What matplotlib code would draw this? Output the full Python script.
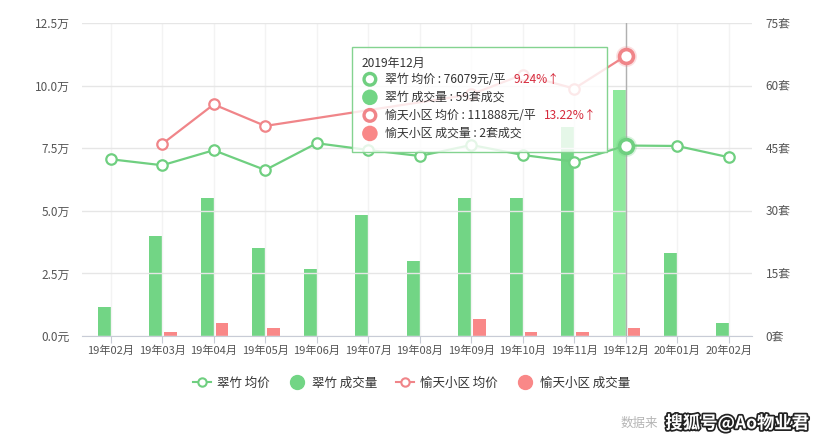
import numpy as np
import matplotlib
matplotlib.use('Agg')
import matplotlib.pyplot as plt
import matplotlib.patheffects as pe
from matplotlib.lines import Line2D
from matplotlib.patches import Circle
from matplotlib.offsetbox import TextArea, HPacker, VPacker, DrawingArea, AnnotationBbox

plt.rcParams['font.family'] = ['Noto Sans CJK SC', 'DejaVu Sans']

months = ['19年02月', '19年03月', '19年04月', '19年05月', '19年06月', '19年07月', '19年08月',
          '19年09月', '19年10月', '19年11月', '19年12月', '20年01月', '20年02月']
cuizhu_price = [70600, 68200, 74200, 66300, 77000, 74300, 71900, 76300, 72300, 69645, 76079, 75900, 71400]
cuizhu_volume = [7, 24, 33, 21, 16, 29, 18, 33, 33, 50, 59, 20, 3]
yutian_price = [np.nan, 76700, 92500, 83900, np.nan, np.nan, np.nan, 96500, 104400, 98823, 111888, np.nan, np.nan]
yutian_volume = [0, 1, 3, 2, 0, 0, 0, 4, 1, 1, 2, 0, 0]
hover = 10  # 19年12月

green = '#72d585'
green_hi = '#8fe99d'
green_line = '#6fcf80'
red = '#f98888'
red_line = '#f08589'
up_red = '#d62a3c'

x = np.arange(len(months))
fig = plt.figure(figsize=(8.24, 4.43), dpi=100)
ax = fig.add_axes([0.100, 0.2415, 0.8126, 0.7065])
ax2 = ax.twinx()

# bars (right axis)
bar_colors = [green_hi if i == hover else green for i in x]
ax2.bar(x - 0.125, cuizhu_volume, width=0.25, color=bar_colors, zorder=2)
ax2.bar(x + 0.16, yutian_volume, width=0.25, color=red, zorder=2)
ax2.set_ylim(0, 75)
ax2.set_yticks(range(0, 76, 15))
ax2.set_yticklabels(['%d套' % v for v in range(0, 76, 15)])

# lines (left axis) drawn on top
ax.set_zorder(ax2.get_zorder() + 1)
ax.patch.set_visible(False)
ax2.patch.set_visible(True)
ax2.patch.set_facecolor('white')

cp = np.array(cuizhu_price, dtype=float)
yp = np.array(yutian_price, dtype=float)
ok = ~np.isnan(yp)
ax.plot(x, cp, color=green_line, lw=1.6, marker='o', ms=7.5, mfc='white', mec=green_line, mew=1.6, zorder=4)
ax.plot(x[ok], yp[ok], color=red_line, lw=1.6, marker='o', ms=7.5, mfc='white', mec=red_line, mew=1.6, zorder=5)

# hovered points
for vals, col in [(cp, green_line), (yp, red_line)]:
    ax.plot([hover], [vals[hover]], 'o', ms=15, color=col, alpha=0.25, mew=0, zorder=6)
    ax.plot([hover], [vals[hover]], 'o', ms=10, mfc='white', mec=col, mew=2.6, zorder=7)

ax.axvline(hover, color='#b0b0b0', lw=1, zorder=3)

ax.set_ylim(0, 125000)
ax.set_yticks(range(0, 125001, 25000))
ax.set_yticklabels(['0.0元'] + ['%.1f万' % (v / 10000) for v in range(25000, 125001, 25000)])
ax.set_xlim(-0.55, 12.45)
ax.set_xticks(x)
ax.set_xticklabels(months)

ax2.grid(False)
ax.grid(axis='y', color='#e6e6e6', lw=1, zorder=0)
ax.grid(axis='x', color='#f3f3f3', lw=1, zorder=0)

for a in (ax, ax2):
    for s in a.spines.values():
        s.set_visible(False)
    a.tick_params(axis='y', length=0, labelsize=8.5, labelcolor='#555555')
ax.spines['bottom'].set_visible(True)
ax.spines['bottom'].set_color('#c8ccd6')
ax.tick_params(axis='x', length=5, color='#c8ccd6', labelsize=8, labelcolor='#555555', pad=2)
ax2.tick_params(axis='x', length=0)
ax.tick_params(axis='y', pad=9)
ax2.tick_params(axis='y', pad=10)

# legend
handles = [
    Line2D([], [], color=green_line, lw=1.5, marker='o', ms=6, mfc='white', mec=green_line, mew=1.5),
    Line2D([], [], color=green, lw=0, marker='o', ms=10),
    Line2D([], [], color=red_line, lw=1.5, marker='o', ms=6, mfc='white', mec=red_line, mew=1.5),
    Line2D([], [], color=red, lw=0, marker='o', ms=10),
]
labels = ['翠竹 均价', '翠竹 成交量', '愉天小区 均价', '愉天小区 成交量']
fig.legend(handles, labels, loc='center', bbox_to_anchor=(0.5, 0.135), ncol=4, frameon=False,
           fontsize=9, handlelength=1.4, handletextpad=0.5, columnspacing=1.5, labelcolor='#333333')

# tooltip
def icon(col, hollow):
    d = DrawingArea(12, 12, 0, 0)
    if hollow:
        d.add_artist(Circle((6, 6), 4.2, fc='white', ec=col, lw=2.4))
    else:
        d.add_artist(Circle((6, 6), 5.6, fc=col, ec='none'))
    return d

def row(col, hollow, text, extra=None):
    left = HPacker(children=[icon(col, hollow), TextArea(text, textprops=tp)], sep=5, align='center')
    if extra is None:
        return left
    return HPacker(children=[left, TextArea(extra, textprops=pp)], sep=6, align='center')

tp = dict(color='#333333', size=8.6)
pp = dict(color=up_red, size=8.6)
g_pct = (cuizhu_price[hover] / cuizhu_price[hover - 1] - 1) * 100
r_pct = (yutian_price[hover] / yutian_price[hover - 1] - 1) * 100
rows = [
    TextArea('2019年12月', textprops=tp),
    row(green_line, True, '翠竹 均价 : %d元/平' % cuizhu_price[hover], '%.2f%%↑' % g_pct),
    row(green, False, '翠竹 成交量 : %d套成交' % cuizhu_volume[hover]),
    row(red_line, True, '愉天小区 均价 : %d元/平' % yutian_price[hover], '%.2f%%↑' % r_pct),
    row(red, False, '愉天小区 成交量 : %d套成交' % yutian_volume[hover]),
]
box = VPacker(children=rows, sep=1.0, align='left', pad=4.0)
ab = AnnotationBbox(box, (356, 443 - 51), xycoords='figure pixels', box_alignment=(0, 1), pad=0.7,
                    bboxprops=dict(boxstyle='square', fc=(1, 1, 1, 0.82), ec='#84d390', lw=1))
ab.set_zorder(20)
ax.add_artist(ab)

# watermark
fig.text(0.798, 0.045, '数据来', color='#b5b5b5', fontsize=9, va='center', ha='right')
fig.text(0.982, 0.045, '搜狐号@Ao物业君', color='white', fontsize=12.5, fontweight='bold', ha='right',
         va='center', path_effects=[pe.withStroke(linewidth=2.5, foreground='#222222')])

fig.savefig('out.png', dpi=100)
